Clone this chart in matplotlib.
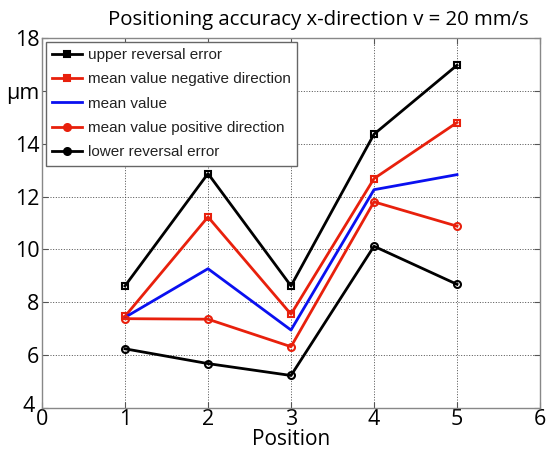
import matplotlib
matplotlib.use("Agg")
from matplotlib import pyplot as plt
from matplotlib import transforms

# dados
posicoes = [1, 2, 3, 4, 5]
erro_reversao_sup = [8.62, 12.87, 8.62, 14.36, 16.97]
media_negativa = [7.47, 11.23, 7.55, 12.68, 14.8]
media = [7.43, 9.27, 6.95, 12.26, 12.83]
media_positiva = [7.38, 7.36, 6.32, 11.8, 10.88]
erro_reversao_inf = [6.24, 5.68, 5.23, 10.12, 8.68]

rotulos_y = ["4", "6", "8", "10", "12", "14", "\u00b5m", "18"]
valores_y = [4, 6, 8, 10, 12, 14, 16, 18]

fonte = "Open Sans"

fig = plt.figure(figsize=(5.47, 4.51), dpi=100)
ax = fig.add_axes([42 / 547, 43 / 451, 498 / 547, 370 / 451])

ax.plot(posicoes, erro_reversao_sup, color="black", lw=2, marker="s", ms=5,
        mfc="none", mew=1.5, label="upper reversal error")
ax.plot(posicoes, media_negativa, color="#e8200c", lw=2, marker="s", ms=5,
        mfc="none", mew=1.5, label="mean value negative direction")
ax.plot(posicoes, media, color="#0a10f0", lw=2, label="mean value")
ax.plot(posicoes, media_positiva, color="#e8200c", lw=2, marker="o", ms=5,
        mfc="none", mew=1.5, label="mean value positive direction")
ax.plot(posicoes, erro_reversao_inf, color="black", lw=2, marker="o", ms=5,
        mfc="none", mew=1.5, label="lower reversal error")

ax.set_xlim(0, 6)
ax.set_ylim(4, 18)
ax.set_xticks(range(0, 7))
ax.set_yticks(valores_y)
ax.set_yticklabels(rotulos_y)
ax.tick_params(direction="in", top=True, right=True, length=4, pad=1,
               labelsize=15.5, color="#555555")
ax.tick_params(axis="y", pad=2)
for rot in ax.get_xticklabels() + ax.get_yticklabels():
    rot.set_fontfamily(fonte)
# o "4" vai um pouco para cima e para a esquerda para nao encostar no "0"
rot4 = ax.get_yticklabels()[0]
rot4.set_transform(rot4.get_transform() +
                   transforms.ScaledTranslation(-4 / 100, 4 / 100, fig.dpi_scale_trans))
ax.grid(True, color="#333333", ls=(0, (1.2, 2)), lw=0.6)
for lado in ax.spines.values():
    lado.set_color("#888888")
    lado.set_linewidth(1)

leg = ax.legend(loc="upper left", handlelength=2.0, handletextpad=0.35,
                borderaxespad=0.25, borderpad=0.4, labelspacing=0.68,
                fancybox=False, framealpha=1, edgecolor="#666666",
                prop={"family": "Liberation Sans", "size": 11})
for t in leg.get_texts():
    t.set_color("#222222")
for h in leg.get_lines():
    h.set_markerfacecolor(h.get_color())

fig.text(318 / 547, 1 - 20 / 451, "Positioning accuracy x-direction v = 20 mm/s",
         ha="center", va="center", fontsize=14.7, family=fonte)
ax.set_xlabel("Position", fontsize=15, family=fonte, labelpad=-1)

fig.savefig("out.png", dpi=100)
